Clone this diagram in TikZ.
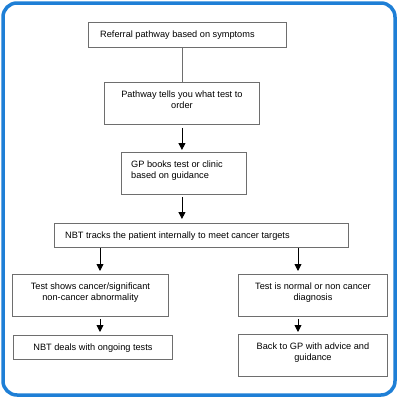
\documentclass[tikz,border=0pt]{standalone}
\usepackage{fontspec}
\setmainfont{Liberation Sans}
\usetikzlibrary{arrows.meta,calc}
\definecolor{frameblue}{RGB}{30,127,214}
\definecolor{boxgray}{RGB}{110,110,110}
\begin{document}
\begin{tikzpicture}[x=1pt,y=-1pt,
  box/.style={draw=boxgray,line width=0.9pt,anchor=north west,inner sep=0pt,minimum width=#1},
  txt/.style={inner sep=0pt,font=\fontsize{9.2}{11}\selectfont,align=center},
  arr/.style={draw=black,line width=0.9pt,-{Triangle[width=7pt,length=7pt]}},
  link/.style={draw=boxgray,line width=0.9pt}]
\useasboundingbox (0,0) rectangle (400,400);
\draw[frameblue,line width=3.5pt,rounded corners=14pt] (3,3) rectangle (395,395);
% boxes
\node[box=198pt,minimum height=25pt] (b1) at (88,22) {};
\node[box=155pt,minimum height=42pt] (b2) at (104,82) {};
\node[box=125pt,minimum height=42pt] (b3) at (121,152) {};
\node[box=294pt,minimum height=24pt] (b4) at (54,223) {};
\node[box=156pt,minimum height=42pt] (b5) at (12,274) {};
\node[box=149pt,minimum height=42pt] (b6) at (238,274) {};
\node[box=159pt,minimum height=24pt] (b7) at (13,335) {};
\node[box=149pt,minimum height=42pt] (b8) at (238,334) {};
% texts
\node[txt,anchor=north west] (t1) at ($(b1.north west)+(12,8.5)$) {Referral pathway based on symptoms};
\node[txt,anchor=north] (t2) at ($(b2.north)+(0,8.5)$) {Pathway tells you what test to\\order};
\node[txt,anchor=north west,align=left] (t3) at ($(b3.north west)+(10,8.5)$) {GP books test or clinic\\based on guidance};
\node[txt,anchor=north west] (t4) at ($(b4.north west)+(11,8.5)$) {NBT tracks the patient internally to meet cancer targets};
\node[txt,anchor=north] (t5) at ($(b5.north)+(0,8.5)$) {Test shows cancer/significant\\non-cancer abnormality};
\node[txt,anchor=north] (t6) at ($(b6.north)+(0,8.5)$) {Test is normal or non cancer\\diagnosis};
\node[txt,anchor=north] (t7) at ($(b7.north)+(0,8.5)$) {NBT deals with ongoing tests};
\node[txt,anchor=north] (t8) at ($(b8.north)+(0,8.5)$) {Back to GP with advice and\\guidance};
% connectors
\draw[link] (b2.north |- b1.south) -- (b2.north);
\draw[arr,shorten <=3pt,shorten >=2pt] (b2.south) -- (b2.south |- b3.north);
\draw[arr,shorten <=2pt,shorten >=4pt] (b2.south |- b3.south) -- (b2.south |- b4.north);
\draw[arr,shorten >=3pt] (b4.south west) ++(46,0) coordinate (cl) -- (cl |- b5.north);
\draw[arr,shorten >=3pt] (b4.south west) ++(244,0) coordinate (cr) -- (cr |- b6.north);
\draw[arr,shorten <=2pt,shorten >=3pt] (cl |- b5.south) -- (cl |- b7.north);
\draw[arr,shorten <=2pt,shorten >=2pt] (cr |- b6.south) -- (cr |- b8.north);
\end{tikzpicture}
\end{document}
